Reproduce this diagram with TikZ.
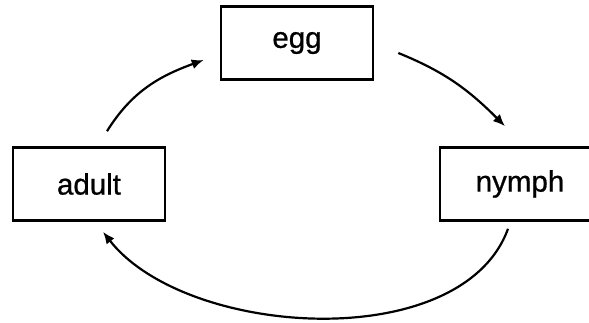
\documentclass[tikz,border=0pt]{standalone}
\usepackage{fontspec}
\setmainfont{Liberation Sans}
\newfontfamily\stagefont[FakeBold=0.8]{Liberation Sans}
\usetikzlibrary{arrows.meta}

\begin{document}
\begin{tikzpicture}[
        x=1pt, y=-1pt,
        stage/.style={draw, line width=2.6pt, minimum width=152pt,
                      minimum height=73pt, font=\stagefont\fontsize{29.5}{34}\selectfont},
        arr/.style={-{Latex[length=12pt, width=10pt]}, line width=2.2pt}
      ]
      \useasboundingbox (0,0) rectangle (589,323);

      \node[stage] (egg)   at (297,43)  {egg};
      \node[stage] (adult) at (89,184)  {adult};
      \node[stage, minimum width=160pt] (nymph) at (520,184) {nymph};

      \draw[arr] ([xshift=18pt, yshift=15pt]adult.north)
        to[out=58, in=200] ([xshift=-16pt, yshift=-17pt]egg.west);
      \draw[arr] ([xshift=24pt, yshift=-10pt]egg.east)
        to[out=-22, in=135] ([xshift=-15pt, yshift=20pt]nymph.north);
      \draw[arr] ([xshift=-12pt, yshift=-7pt]nymph.south)
        to[out=-110, in=-52, looseness=0.85] ([xshift=14pt, yshift=-10pt]adult.south);
    \end{tikzpicture}
\end{document}
